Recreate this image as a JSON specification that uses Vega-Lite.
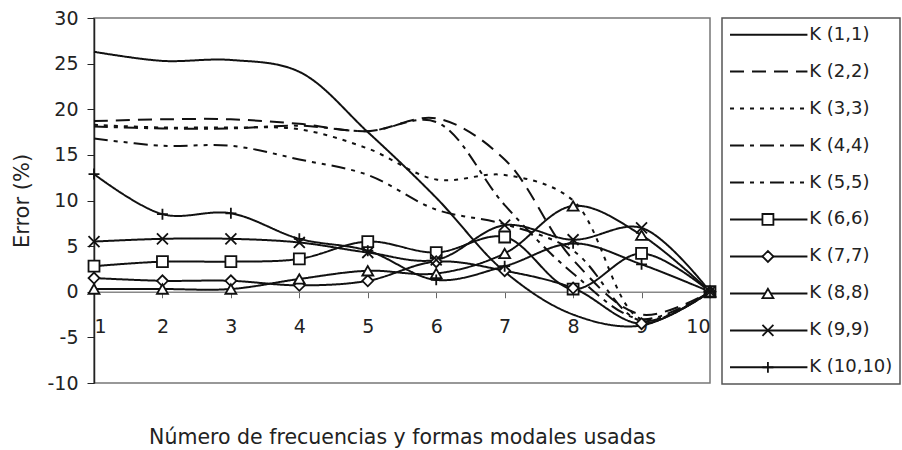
{
  "$schema": "https://vega.github.io/schema/vega-lite/v6.json",
  "padding": {"left": 11, "top": 8, "right": 2, "bottom": 3},
  "bounds": "flush",
  "spacing": 12,
  "config": {"font": "DejaVu Sans", "view": {"stroke": null}},
  "resolve": {"scale": {"x": "independent", "y": "independent", "strokeDash": "independent", "shape": "independent"}},
  "datasets": {
    "d": [
      {"s": "K (1,1)", "x": 1, "y": 26.3}, {"s": "K (1,1)", "x": 2, "y": 25.3}, {"s": "K (1,1)", "x": 3, "y": 25.4}, {"s": "K (1,1)", "x": 4, "y": 24.1}, {"s": "K (1,1)", "x": 5, "y": 17.5}, {"s": "K (1,1)", "x": 6, "y": 10.3}, {"s": "K (1,1)", "x": 7, "y": 2.2}, {"s": "K (1,1)", "x": 8, "y": -2.5}, {"s": "K (1,1)", "x": 9, "y": -3.7}, {"s": "K (1,1)", "x": 10, "y": 0},
      {"s": "K (2,2)", "x": 1, "y": 18.7}, {"s": "K (2,2)", "x": 2, "y": 18.9}, {"s": "K (2,2)", "x": 3, "y": 18.9}, {"s": "K (2,2)", "x": 4, "y": 18.4}, {"s": "K (2,2)", "x": 5, "y": 17.6}, {"s": "K (2,2)", "x": 6, "y": 19.0}, {"s": "K (2,2)", "x": 7, "y": 14.5}, {"s": "K (2,2)", "x": 8, "y": 3.5}, {"s": "K (2,2)", "x": 9, "y": -2.5}, {"s": "K (2,2)", "x": 10, "y": 0},
      {"s": "K (3,3)", "x": 1, "y": 18.3}, {"s": "K (3,3)", "x": 2, "y": 18.0}, {"s": "K (3,3)", "x": 3, "y": 18.0}, {"s": "K (3,3)", "x": 4, "y": 17.8}, {"s": "K (3,3)", "x": 5, "y": 15.7}, {"s": "K (3,3)", "x": 6, "y": 12.3}, {"s": "K (3,3)", "x": 7, "y": 12.8}, {"s": "K (3,3)", "x": 8, "y": 10.0}, {"s": "K (3,3)", "x": 9, "y": -3.0}, {"s": "K (3,3)", "x": 10, "y": 0},
      {"s": "K (4,4)", "x": 1, "y": 18.1}, {"s": "K (4,4)", "x": 2, "y": 17.9}, {"s": "K (4,4)", "x": 3, "y": 17.9}, {"s": "K (4,4)", "x": 4, "y": 18.2}, {"s": "K (4,4)", "x": 5, "y": 17.6}, {"s": "K (4,4)", "x": 6, "y": 18.6}, {"s": "K (4,4)", "x": 7, "y": 9.5}, {"s": "K (4,4)", "x": 8, "y": 2.0}, {"s": "K (4,4)", "x": 9, "y": -3.0}, {"s": "K (4,4)", "x": 10, "y": 0},
      {"s": "K (5,5)", "x": 1, "y": 16.8}, {"s": "K (5,5)", "x": 2, "y": 16.0}, {"s": "K (5,5)", "x": 3, "y": 16.0}, {"s": "K (5,5)", "x": 4, "y": 14.5}, {"s": "K (5,5)", "x": 5, "y": 12.8}, {"s": "K (5,5)", "x": 6, "y": 9.0}, {"s": "K (5,5)", "x": 7, "y": 7.4}, {"s": "K (5,5)", "x": 8, "y": 4.5}, {"s": "K (5,5)", "x": 9, "y": -3.2}, {"s": "K (5,5)", "x": 10, "y": 0},
      {"s": "K (6,6)", "x": 1, "y": 2.8}, {"s": "K (6,6)", "x": 2, "y": 3.3}, {"s": "K (6,6)", "x": 3, "y": 3.3}, {"s": "K (6,6)", "x": 4, "y": 3.6}, {"s": "K (6,6)", "x": 5, "y": 5.5}, {"s": "K (6,6)", "x": 6, "y": 4.3}, {"s": "K (6,6)", "x": 7, "y": 6.0}, {"s": "K (6,6)", "x": 8, "y": 0.3}, {"s": "K (6,6)", "x": 9, "y": 4.2}, {"s": "K (6,6)", "x": 10, "y": 0},
      {"s": "K (7,7)", "x": 1, "y": 1.5}, {"s": "K (7,7)", "x": 2, "y": 1.2}, {"s": "K (7,7)", "x": 3, "y": 1.2}, {"s": "K (7,7)", "x": 4, "y": 0.7}, {"s": "K (7,7)", "x": 5, "y": 1.2}, {"s": "K (7,7)", "x": 6, "y": 3.3}, {"s": "K (7,7)", "x": 7, "y": 2.3}, {"s": "K (7,7)", "x": 8, "y": 0.4}, {"s": "K (7,7)", "x": 9, "y": -3.5}, {"s": "K (7,7)", "x": 10, "y": 0},
      {"s": "K (8,8)", "x": 1, "y": 0.3}, {"s": "K (8,8)", "x": 2, "y": 0.3}, {"s": "K (8,8)", "x": 3, "y": 0.3}, {"s": "K (8,8)", "x": 4, "y": 1.4}, {"s": "K (8,8)", "x": 5, "y": 2.3}, {"s": "K (8,8)", "x": 6, "y": 2.0}, {"s": "K (8,8)", "x": 7, "y": 4.2}, {"s": "K (8,8)", "x": 8, "y": 9.4}, {"s": "K (8,8)", "x": 9, "y": 6.2}, {"s": "K (8,8)", "x": 10, "y": 0},
      {"s": "K (9,9)", "x": 1, "y": 5.5}, {"s": "K (9,9)", "x": 2, "y": 5.8}, {"s": "K (9,9)", "x": 3, "y": 5.8}, {"s": "K (9,9)", "x": 4, "y": 5.4}, {"s": "K (9,9)", "x": 5, "y": 4.3}, {"s": "K (9,9)", "x": 6, "y": 3.5}, {"s": "K (9,9)", "x": 7, "y": 7.3}, {"s": "K (9,9)", "x": 8, "y": 5.7}, {"s": "K (9,9)", "x": 9, "y": 7.0}, {"s": "K (9,9)", "x": 10, "y": 0},
      {"s": "K (10,10)", "x": 1, "y": 12.9}, {"s": "K (10,10)", "x": 2, "y": 8.5}, {"s": "K (10,10)", "x": 3, "y": 8.6}, {"s": "K (10,10)", "x": 4, "y": 5.8}, {"s": "K (10,10)", "x": 5, "y": 4.5}, {"s": "K (10,10)", "x": 6, "y": 1.3}, {"s": "K (10,10)", "x": 7, "y": 2.8}, {"s": "K (10,10)", "x": 8, "y": 5.3}, {"s": "K (10,10)", "x": 9, "y": 3.0}, {"s": "K (10,10)", "x": 10, "y": 0}
    ]
  },
  "hconcat": [
    {
      "width": 616,
      "height": 365,
      "data": {"name": "d"},
      "view": {"stroke": "#777", "strokeWidth": 1.5},
      "encoding": {
        "x": {
          "field": "x", "type": "quantitative",
          "scale": {"domain": [1, 10], "nice": false},
          "axis": {
            "title": "Número de frecuencias y formas modales usadas",
            "values": [1, 2, 3, 4, 5, 6, 7, 8, 9, 10],
            "labelExpr": "toString(datum.value)",
            "offset": -91.25,
            "grid": false,
            "domainColor": "#888",
            "domainWidth": 1.5,
            "tickColor": "#666",
            "tickSize": 6,
            "labelPadding": 20,
            "labelFontSize": 19,
            "labelColor": "#222",
            "titleFontSize": 20.5,
            "titleFontWeight": "normal",
            "titleColor": "#222",
            "titleY": 146,
            "titleBaseline": "middle"
          }
        },
        "y": {
          "field": "y", "type": "quantitative",
          "scale": {"domain": [-10, 30], "nice": false},
          "axis": {
            "title": "Error (%)",
            "values": [-10, -5, 0, 5, 10, 15, 20, 25, 30],
            "labelExpr": "toString(datum.value)",
            "grid": false,
            "domainColor": "#222",
            "domainWidth": 1.5,
            "tickColor": "#222",
            "tickSize": 7,
            "labelPadding": 9,
            "labelFontSize": 19,
            "labelColor": "#222",
            "titleFontSize": 21,
            "titleFontWeight": "normal",
            "titleColor": "#222",
            "titlePadding": 14
          }
        }
      },
      "layer": [
        {
          "mark": {"type": "line", "interpolate": "catmull-rom", "color": "#111", "strokeWidth": 2},
          "encoding": {
            "strokeDash": {
              "field": "s", "type": "nominal",
              "scale": {
                "domain": ["K (1,1)", "K (2,2)", "K (3,3)", "K (4,4)", "K (5,5)", "K (6,6)", "K (7,7)", "K (8,8)", "K (9,9)", "K (10,10)"],
                "range": [[1, 0], [14, 8], [4, 6], [14, 6, 4, 6], [14, 6, 4, 6, 4, 6], [1, 0], [1, 0], [1, 0], [1, 0], [1, 0]]
              },
              "legend": null
            }
          }
        },
        {
          "transform": [{"filter": {"field": "s", "oneOf": ["K (6,6)", "K (7,7)", "K (8,8)", "K (9,9)", "K (10,10)"]}}],
          "mark": {"type": "point", "filled": true, "fill": "white", "stroke": "#111", "strokeWidth": 1.8, "size": 120, "opacity": 1},
          "encoding": {
            "shape": {
              "field": "s", "type": "nominal",
              "scale": {
                "domain": ["K (6,6)", "K (7,7)", "K (8,8)", "K (9,9)", "K (10,10)"],
                "range": ["square", "diamond", "triangle-up", "M-1,-1L1,1M-1,1L1,-1", "M-1,0L1,0M0,-1L0,1"]
              },
              "legend": null
            }
          }
        }
      ]
    },
    {
      "width": 178,
      "height": 366,
      "data": {"name": "d"},
      "transform": [{"filter": "datum.x == 1"}],
      "view": {"stroke": "#555", "strokeWidth": 1.5},
      "encoding": {
        "y": {
          "field": "s", "type": "nominal",
          "scale": {"type": "point", "padding": 0.45, "domain": ["K (1,1)", "K (2,2)", "K (3,3)", "K (4,4)", "K (5,5)", "K (6,6)", "K (7,7)", "K (8,8)", "K (9,9)", "K (10,10)"]},
          "axis": null
        }
      },
      "layer": [
        {
          "mark": {"type": "rule", "color": "#111", "strokeWidth": 2},
          "encoding": {
            "x": {"datum": 0.045, "type": "quantitative", "scale": {"domain": [0, 1]}, "axis": null},
            "x2": {"datum": 0.48},
            "strokeDash": {
              "field": "s", "type": "nominal",
              "scale": {
                "domain": ["K (1,1)", "K (2,2)", "K (3,3)", "K (4,4)", "K (5,5)", "K (6,6)", "K (7,7)", "K (8,8)", "K (9,9)", "K (10,10)"],
                "range": [[1, 0], [14, 8], [4, 6], [14, 6, 4, 6], [14, 6, 4, 6, 4, 6], [1, 0], [1, 0], [1, 0], [1, 0], [1, 0]]
              },
              "legend": null
            }
          }
        },
        {
          "transform": [{"filter": {"field": "s", "oneOf": ["K (6,6)", "K (7,7)", "K (8,8)", "K (9,9)", "K (10,10)"]}}],
          "mark": {"type": "point", "filled": true, "fill": "white", "stroke": "#111", "strokeWidth": 1.8, "size": 120, "opacity": 1},
          "encoding": {
            "x": {"datum": 0.258, "type": "quantitative", "scale": {"domain": [0, 1]}, "axis": null},
            "shape": {
              "field": "s", "type": "nominal",
              "scale": {
                "domain": ["K (6,6)", "K (7,7)", "K (8,8)", "K (9,9)", "K (10,10)"],
                "range": ["square", "diamond", "triangle-up", "M-1,-1L1,1M-1,1L1,-1", "M-1,0L1,0M0,-1L0,1"]
              },
              "legend": null
            }
          }
        },
        {
          "mark": {"type": "text", "align": "left", "baseline": "middle", "fontSize": 18, "color": "#222"},
          "encoding": {
            "x": {"datum": 0.49, "type": "quantitative", "scale": {"domain": [0, 1]}, "axis": null},
            "text": {"field": "s", "type": "nominal"}
          }
        }
      ]
    }
  ]
}
